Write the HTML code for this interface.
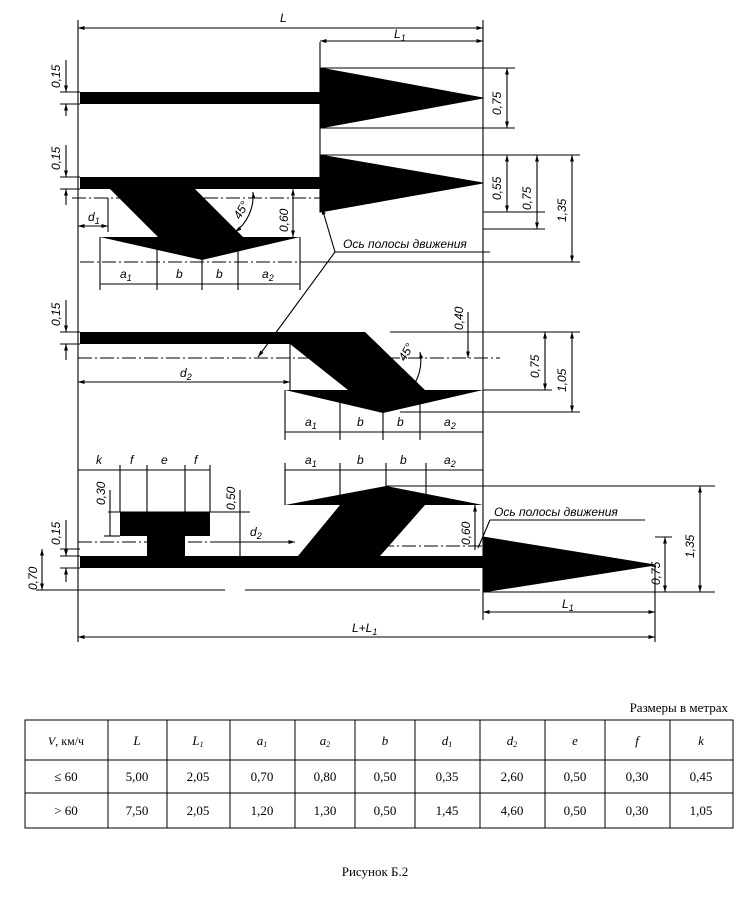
<!DOCTYPE html>
<html><head><meta charset="utf-8"><style>
body{margin:0;background:#fff;width:750px;height:904px;overflow:hidden}
svg{position:absolute;left:0;top:0}
.t{font-family:"Liberation Sans","DejaVu Sans",sans-serif;font-style:italic;font-size:12px}
.s{font-family:"Liberation Serif",serif;font-size:13px}
</style></head><body>
<svg width="750" height="904" viewBox="0 0 750 904">
<defs>
<marker id="a" viewBox="0 0 10 10" refX="10" refY="5" markerWidth="6" markerHeight="6" orient="auto-start-reverse"><path d="M0,2 L10,5 L0,8z" fill="#000"/></marker>
</defs>
<g stroke="#000" stroke-width="1.1" fill="none">
<line x1="78" y1="20" x2="78" y2="642"/>
<line x1="483" y1="20" x2="483" y2="600"/>
<line x1="320" y1="42" x2="320" y2="212"/>
<line x1="78" y1="28" x2="483" y2="28" marker-start="url(#a)" marker-end="url(#a)"/>
<line x1="320" y1="41" x2="483" y2="41" marker-start="url(#a)" marker-end="url(#a)"/>
<line x1="320" y1="68" x2="515" y2="68"/><line x1="320" y1="128" x2="515" y2="128"/>
<line x1="507" y1="68" x2="507" y2="128" marker-start="url(#a)" marker-end="url(#a)"/>
<line x1="320" y1="155" x2="580" y2="155"/><line x1="483" y1="212" x2="545" y2="212"/><line x1="483" y1="229" x2="545" y2="229"/>
<line x1="507" y1="155" x2="507" y2="212" marker-start="url(#a)" marker-end="url(#a)"/>
<line x1="537" y1="155" x2="537" y2="229" marker-start="url(#a)" marker-end="url(#a)"/>
<line x1="572" y1="155" x2="572" y2="262" marker-start="url(#a)" marker-end="url(#a)"/>
<line x1="300" y1="262" x2="580" y2="262"/>
<line x1="60" y1="92" x2="80" y2="92"/><line x1="60" y1="104" x2="80" y2="104"/>
<line x1="66" y1="60" x2="66" y2="92" marker-end="url(#a)"/><line x1="66" y1="116" x2="66" y2="104" marker-end="url(#a)"/>
<line x1="60" y1="177" x2="80" y2="177"/><line x1="60" y1="189" x2="80" y2="189"/>
<line x1="66" y1="145" x2="66" y2="177" marker-end="url(#a)"/><line x1="66" y1="205" x2="66" y2="189" marker-end="url(#a)"/>
<line x1="72" y1="198" x2="320" y2="198" stroke-dasharray="14,3,2,3"/>
<line x1="108" y1="198" x2="108" y2="232"/>
<line x1="78" y1="226" x2="108" y2="226" marker-start="url(#a)" marker-end="url(#a)"/>
<line x1="293" y1="189" x2="293" y2="237" marker-start="url(#a)" marker-end="url(#a)"/>
<path d="M253,192 A45,45 0 0 1 235,232" marker-start="url(#a)" marker-end="url(#a)"/>
<line x1="100" y1="237" x2="100" y2="290"/><line x1="157" y1="240" x2="157" y2="290"/><line x1="202" y1="258" x2="202" y2="290"/><line x1="238" y1="248" x2="238" y2="290"/><line x1="300" y1="237" x2="300" y2="290"/>
<line x1="100" y1="284" x2="300" y2="284"/>
<line x1="80" y1="262" x2="300" y2="262" stroke-dasharray="14,3,2,3"/>
<line x1="335" y1="252" x2="490" y2="252"/>
<line x1="335" y1="252" x2="322" y2="208" marker-end="url(#a)"/>
<line x1="335" y1="252" x2="258" y2="357" marker-end="url(#a)"/>
<line x1="60" y1="332" x2="80" y2="332"/><line x1="60" y1="344" x2="80" y2="344"/>
<line x1="66" y1="300" x2="66" y2="332" marker-end="url(#a)"/><line x1="66" y1="360" x2="66" y2="344" marker-end="url(#a)"/>
<line x1="78" y1="358" x2="500" y2="358" stroke-dasharray="14,3,2,3"/>
<line x1="290" y1="344" x2="290" y2="390"/>
<line x1="78" y1="382" x2="290" y2="382" marker-start="url(#a)" marker-end="url(#a)"/>
<line x1="468" y1="312" x2="468" y2="358" marker-end="url(#a)"/>
<line x1="390" y1="332" x2="580" y2="332"/>
<line x1="483" y1="390" x2="552" y2="390"/>
<line x1="545" y1="332" x2="545" y2="390" marker-start="url(#a)" marker-end="url(#a)"/>
<line x1="400" y1="412" x2="580" y2="412"/>
<line x1="572" y1="332" x2="572" y2="412" marker-start="url(#a)" marker-end="url(#a)"/>
<path d="M420,352 A45,45 0 0 1 410,390" marker-start="url(#a)" marker-end="url(#a)"/>
<line x1="285" y1="390" x2="285" y2="440"/><line x1="340" y1="400" x2="340" y2="440"/><line x1="383" y1="410" x2="383" y2="440"/><line x1="420" y1="400" x2="420" y2="440"/>
<line x1="285" y1="432" x2="483" y2="432"/>
<line x1="285" y1="470" x2="483" y2="470"/>
<line x1="285" y1="463" x2="285" y2="505"/><line x1="340" y1="463" x2="340" y2="495"/><line x1="386" y1="463" x2="386" y2="486"/><line x1="426" y1="463" x2="426" y2="495"/>
<line x1="386" y1="486" x2="715" y2="486"/>
<line x1="78" y1="470" x2="210" y2="470"/>
<line x1="120" y1="465" x2="120" y2="512"/><line x1="147" y1="465" x2="147" y2="512"/><line x1="185" y1="465" x2="185" y2="512"/><line x1="210" y1="465" x2="210" y2="512"/>
<line x1="108" y1="512" x2="250" y2="512"/>
<line x1="110" y1="490" x2="110" y2="536" /><line x1="104" y1="536" x2="120" y2="536"/>
<line x1="240" y1="490" x2="240" y2="556"/>
<line x1="78" y1="542" x2="296" y2="542" stroke-dasharray="14,3,2,3"/>
<line x1="210" y1="542" x2="295" y2="542" marker-end="url(#a)"/>
<line x1="380" y1="546" x2="483" y2="546" stroke-dasharray="14,3,2,3"/>
<line x1="475" y1="505" x2="475" y2="550" marker-start="url(#a)"/>
<line x1="60" y1="549" x2="80" y2="549"/><line x1="60" y1="556" x2="80" y2="556"/><line x1="60" y1="568" x2="80" y2="568"/>
<line x1="66" y1="520" x2="66" y2="556" marker-end="url(#a)"/><line x1="66" y1="582" x2="66" y2="568" marker-end="url(#a)"/>
<line x1="42" y1="549" x2="42" y2="590" marker-start="url(#a)" marker-end="url(#a)"/>
<line x1="36" y1="590" x2="225" y2="590"/><line x1="245" y1="590" x2="480" y2="590"/><line x1="483" y1="592" x2="715" y2="592"/>
<line x1="655" y1="565" x2="655" y2="642"/><line x1="483" y1="600" x2="483" y2="620"/>
<line x1="655" y1="537" x2="672" y2="537"/>
<line x1="665" y1="537" x2="665" y2="592" marker-start="url(#a)" marker-end="url(#a)"/>
<line x1="700" y1="486" x2="700" y2="592" marker-start="url(#a)" marker-end="url(#a)"/>
<line x1="483" y1="612" x2="655" y2="612" marker-start="url(#a)" marker-end="url(#a)"/>
<line x1="78" y1="637" x2="655" y2="637" marker-start="url(#a)" marker-end="url(#a)"/>
<line x1="490" y1="520" x2="645" y2="520"/>
<line x1="490" y1="520" x2="478" y2="548"/>
</g>
<g fill="#000">
<rect x="80" y="92" width="241" height="12"/>
<polygon points="320,68 483,98 320,128" stroke="#000" stroke-width="1"/>
<rect x="80" y="177" width="241" height="12"/>
<polygon points="320,155 483,183 320,212" stroke="#000" stroke-width="1"/>
<polygon points="110,189 195,189 243,237 300,237 202,260 100,237 158,237"/>
<rect x="80" y="332" width="211" height="12"/>
<polygon points="290,332 365,332 425,390 483,390 383,413 285,390 348,390 290,344"/>
<polygon points="386,486 483,505 425,505 380,556 483,556 483,568 80,568 80,556 147,556 147,536 120,536 120,512 210,512 210,536 185,536 185,556 298,556 340,505 285,505"/>
<polygon points="483,537 655,565 483,592" stroke="#000" stroke-width="1"/>
</g>
<g class="t">
<text x="280" y="22">L</text>
<text x="394" y="38">L<tspan font-size="9" dy="3">1</tspan></text>
<text transform="translate(60,88) rotate(-90)">0,15</text>
<text transform="translate(60,170) rotate(-90)">0,15</text>
<text transform="translate(501,115) rotate(-90)">0,75</text>
<text transform="translate(501,200) rotate(-90)">0,55</text>
<text transform="translate(531,210) rotate(-90)">0,75</text>
<text transform="translate(566,222) rotate(-90)">1,35</text>
<text transform="translate(288,232) rotate(-90)">0,60</text>
<text transform="translate(240,220) rotate(-60)">45°</text>
<text x="88" y="221">d<tspan font-size="9" dy="3">1</tspan></text>
<text x="120" y="278">a<tspan font-size="9" dy="3">1</tspan></text>
<text x="176" y="278">b</text><text x="216" y="278">b</text>
<text x="262" y="278">a<tspan font-size="9" dy="3">2</tspan></text>
<text x="343" y="248">Ось полосы движения</text>
<text transform="translate(60,326) rotate(-90)">0,15</text>
<text transform="translate(463,330) rotate(-90)">0,40</text>
<text transform="translate(539,378) rotate(-90)">0,75</text>
<text transform="translate(566,392) rotate(-90)">1,05</text>
<text transform="translate(405,362) rotate(-60)">45°</text>
<text x="180" y="377">d<tspan font-size="9" dy="3">2</tspan></text>
<text x="305" y="426">a<tspan font-size="9" dy="3">1</tspan></text>
<text x="357" y="426">b</text><text x="397" y="426">b</text>
<text x="444" y="426">a<tspan font-size="9" dy="3">2</tspan></text>
<text x="305" y="464">a<tspan font-size="9" dy="3">1</tspan></text>
<text x="357" y="464">b</text><text x="400" y="464">b</text>
<text x="444" y="464">a<tspan font-size="9" dy="3">2</tspan></text>
<text x="96" y="464">k</text><text x="130" y="464">f</text><text x="161" y="464">e</text><text x="194" y="464">f</text>
<text transform="translate(105,505) rotate(-90)">0,30</text>
<text transform="translate(235,510) rotate(-90)">0,50</text>
<text x="250" y="536">d<tspan font-size="9" dy="3">2</tspan></text>
<text transform="translate(470,545) rotate(-90)">0,60</text>
<text transform="translate(60,545) rotate(-90)">0,15</text>
<text transform="translate(37,590) rotate(-90)">0,70</text>
<text x="494" y="516">Ось полосы движения</text>
<text transform="translate(660,585) rotate(-90)">0,75</text>
<text transform="translate(694,558) rotate(-90)">1,35</text>
<text x="562" y="608">L<tspan font-size="9" dy="3">1</tspan></text>
<text x="352" y="632">L+L<tspan font-size="9" dy="3">1</tspan></text>
</g>
<g stroke="#000" stroke-width="1">
<rect x="25" y="720" width="708" height="108" fill="none"/>
<line x1="25" y1="760" x2="733" y2="760"/><line x1="25" y1="793" x2="733" y2="793"/>
<line x1="108" y1="720" x2="108" y2="828"/><line x1="167" y1="720" x2="167" y2="828"/><line x1="230" y1="720" x2="230" y2="828"/><line x1="295" y1="720" x2="295" y2="828"/><line x1="355" y1="720" x2="355" y2="828"/><line x1="415" y1="720" x2="415" y2="828"/><line x1="480" y1="720" x2="480" y2="828"/><line x1="545" y1="720" x2="545" y2="828"/><line x1="605" y1="720" x2="605" y2="828"/><line x1="670" y1="720" x2="670" y2="828"/>
</g>
<g class="s" text-anchor="middle">
<text x="728" y="712" text-anchor="end">Размеры в метрах</text>
<text x="66" y="745" font-size="12"><tspan font-style="italic">V</tspan>, км/ч</text>
<g font-style="italic"><text x="137" y="745">L</text><text x="198" y="745">L<tspan font-size="8" dy="2">1</tspan></text><text x="262" y="745">a<tspan font-size="8" dy="2">1</tspan></text><text x="325" y="745">a<tspan font-size="8" dy="2">2</tspan></text><text x="385" y="745">b</text><text x="447" y="745">d<tspan font-size="8" dy="2">1</tspan></text><text x="512" y="745">d<tspan font-size="8" dy="2">2</tspan></text><text x="575" y="745">e</text><text x="637" y="745">f</text><text x="701" y="745">k</text></g>
<text x="66" y="781">≤ 60</text><text x="137" y="781">5,00</text><text x="198" y="781">2,05</text><text x="262" y="781">0,70</text><text x="325" y="781">0,80</text><text x="385" y="781">0,50</text><text x="447" y="781">0,35</text><text x="512" y="781">2,60</text><text x="575" y="781">0,50</text><text x="637" y="781">0,30</text><text x="701" y="781">0,45</text>
<text x="66" y="815">&gt; 60</text><text x="137" y="815">7,50</text><text x="198" y="815">2,05</text><text x="262" y="815">1,20</text><text x="325" y="815">1,30</text><text x="385" y="815">0,50</text><text x="447" y="815">1,45</text><text x="512" y="815">4,60</text><text x="575" y="815">0,50</text><text x="637" y="815">0,30</text><text x="701" y="815">1,05</text>
<text x="375" y="876">Рисунок Б.2</text>
</g>
</svg>
</body></html>
